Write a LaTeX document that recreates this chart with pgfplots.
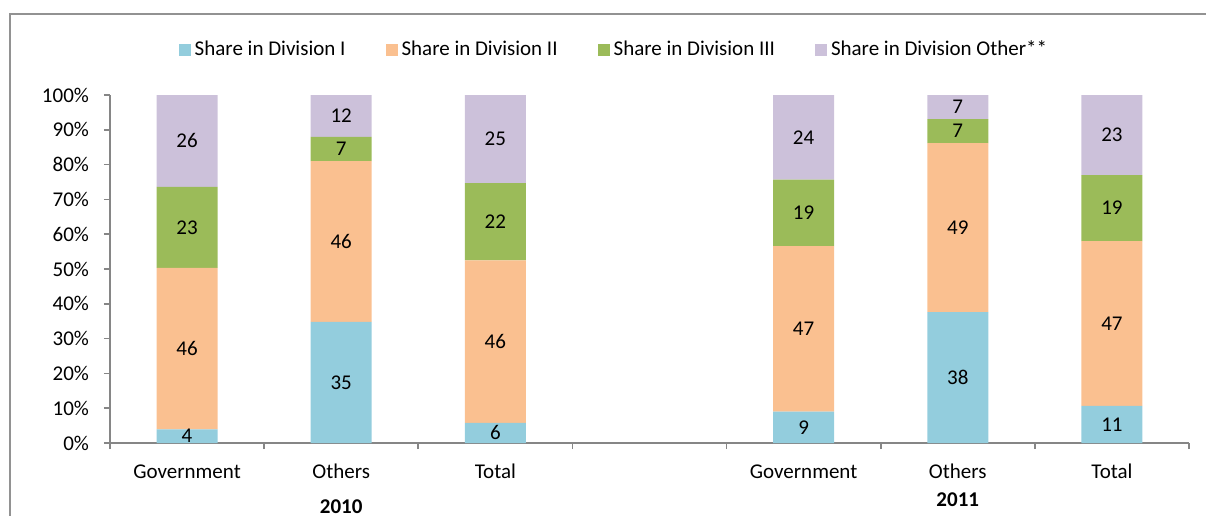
\documentclass[border=0pt]{standalone}
\usepackage{pgfplots}
\pgfplotsset{compat=1.18}
\usepackage{fontspec}
\setmainfont{Carlito}

\definecolor{divI}{HTML}{93CDDD}
\definecolor{divII}{HTML}{FAC090}
\definecolor{divIII}{HTML}{9BBB59}
\definecolor{divO}{HTML}{CCC1DA}
\definecolor{axgray}{HTML}{868686}

\pgfplotsset{
  sq/.style={legend image code/.code={\fill[##1,draw=none] (0pt,-3pt) rectangle (6pt,3pt);}},
}

\begin{document}
\begin{tikzpicture}[font=\fontsize{10.5}{12}\selectfont]
  % outer chart frame (only left and top edges are visible)
  \draw[color=axgray!90, line width=1pt] (-50pt,-40pt) -- (-50pt,214.5pt) -- (560pt,214.5pt);
  \begin{axis}[
      at={(0,0)}, anchor=south west,
      scale only axis, width=539.5pt, height=174pt,
      ybar stacked, bar width=30.5pt,
      xmin=-0.5, xmax=6.5, ymin=0, ymax=100,
      clip=false,
      axis x line*=bottom, axis y line*=left,
      axis line style={axgray, line width=0.8pt},
      tick style={axgray, line width=0.8pt},
      tick align=outside,
      xtick={0,1,2,4,5,6},
      xticklabels={Government,Others,Total,Government,Others,Total},
      major x tick style={draw=none},
      minor xtick={-0.5,0.5,1.5,2.5,3.5,4.5,5.5,6.5},
      minor tick length=3pt,
      major tick length=3pt,
      xticklabel style={anchor=base, yshift=-14.5pt},
      ytick={0,10,...,100},
      yticklabels={0\%,10\%,20\%,30\%,40\%,50\%,60\%,70\%,80\%,90\%,100\%},
      yticklabel style={anchor=east, xshift=-4pt},
      legend style={at={(0.4680,1.130)}, anchor=center, draw=none, fill=none,
        legend columns=4, font=\fontsize{10.5}{12}\selectfont,
        /tikz/every even column/.append style={column sep=18pt}},
      nodes near coords,
      point meta=explicit symbolic,
      every node near coord/.append style={anchor=center, black},
    ]
    \addplot[fill=divI, draw=none, sq] coordinates
      {(0,3.9) [4] (1,34.8) [35] (2,5.8) [6] (4,9.0) [9] (5,37.6) [38] (6,10.7) [11]};
    \addplot[fill=divII, draw=none, sq] coordinates
      {(0,46.4) [46] (1,46.2) [46] (2,46.7) [46] (4,47.6) [47] (5,48.6) [49] (6,47.3) [47]};
    \addplot[fill=divIII, draw=none, sq] coordinates
      {(0,23.3) [23] (1,7.0) [7] (2,22.2) [22] (4,19.1) [19] (5,6.9) [7] (6,19.0) [19]};
    \addplot[fill=divO, draw=none, sq] coordinates
      {(0,26.4) [26] (1,12.0) [12] (2,25.3) [25] (4,24.3) [24] (5,6.9) [7] (6,23.0) [23]};
    \legend{Share in Division I, Share in Division II, Share in Division III, Share in Division Other**}

    \node[font=\bfseries\fontsize{10.5}{12}\selectfont] at (axis cs:1,0) [yshift=-32pt] {2010};
    \node[font=\bfseries\fontsize{10.5}{12}\selectfont] at (axis cs:5,0) [yshift=-28.5pt] {2011};
  \end{axis}
  \pgfresetboundingbox
  \path[use as bounding box] (-55pt,-36pt) rectangle (548pt,221.5pt);
\end{tikzpicture}
\end{document}
